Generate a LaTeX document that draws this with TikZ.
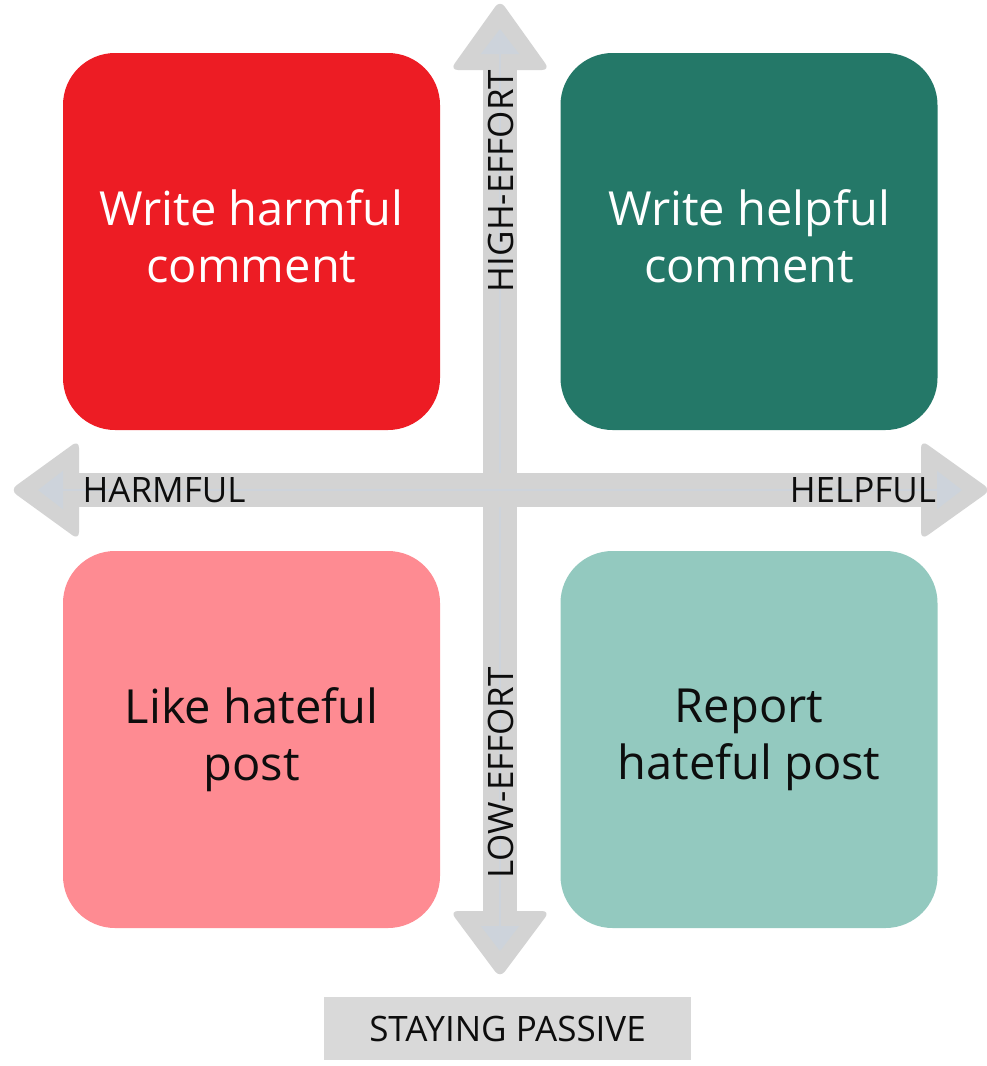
\documentclass[tikz,border=0pt]{standalone}
\usepackage{fontspec}
\setmainfont{Open Sans}
\usetikzlibrary{arrows.meta}

\definecolor{harmred}{HTML}{ED1C24}
\definecolor{helpgreen}{HTML}{247868}
\definecolor{harmpink}{HTML}{FE8B92}
\definecolor{helpteal}{HTML}{93C9BF}
\definecolor{axisgray}{HTML}{D3D3D3}
\definecolor{axisline}{HTML}{CDD3DB}
\definecolor{passivegray}{HTML}{D9D9D9}
\definecolor{inkdark}{HTML}{0D0D0D}

\tikzset{
  quad/.style={minimum width=377pt, minimum height=377pt, rounded corners=52pt, inner sep=0pt},
  quadtext/.style={inner sep=0pt, align=center, font=\fontsize{47}{57}\selectfont},
  axishead/.style={fill=axisgray, rounded corners=8pt},
  axiscore/.style={draw=axisline, line width=1.5pt,
    {Triangle[length=25pt,width=38pt]}-{Triangle[length=25pt,width=38pt]}},
  axislabel/.style={text=inkdark, inner sep=0pt, font=\fontsize{35}{35}\selectfont},
}

\begin{document}
\begin{tikzpicture}[x=1pt, y=-1pt]
  \useasboundingbox (0,0) rectangle (987,1066);

  % quadrants
  \node[quad, fill=harmred]   (wharm) at (251.5,241.5) {};
  \node[quad, fill=helpgreen] (whelp) at (749,241.5)   {};
  \node[quad, fill=harmpink]  (lhate) at (251.5,739.5) {};
  \node[quad, fill=helpteal]  (rhate) at (749,739.5)   {};

  \node[quadtext, text=white, yshift=5pt]  (wharmtext) at (wharm) {Write harmful\\comment};
  \node[quadtext, text=white, yshift=5pt]  (whelptext) at (whelp) {Write helpful\\comment};
  \node[quadtext, text=inkdark] (lhatetext) at (lhate) {Like hateful\\post};
  \node[quadtext, text=inkdark] (rhatetext) at (rhate) {Report\\hateful post};

  % vertical effort axis
  \coordinate (vtop) at (500,29);
  \coordinate (vbot) at (500,951);
  \fill[axisgray] (483,60) rectangle (517,920);
  \fill[axishead] (500,0) -- (550,70) -- (450,70) -- cycle;
  \fill[axishead] (500,978) -- (450,911) -- (550,911) -- cycle;
  \draw[axiscore] (vbot) -- (vtop);

  % horizontal harm/help axis
  \coordinate (hleft) at (38,490);
  \coordinate (hright) at (962,490);
  \fill[axisgray] (70,473) rectangle (930,507);
  \fill[axishead] (10,490) -- (79,440) -- (79,540) -- cycle;
  \fill[axishead] (991,490) -- (921,540) -- (921,440) -- cycle;
  \draw[axiscore] (hleft) -- (hright);

  % axis labels
  \node[axislabel, rotate=90] (high) at (501,181) {HIGH-EFFORT};
  \node[axislabel, rotate=90] (low)  at (501,773) {LOW-EFFORT};
  \node[axislabel] (harmful) at (164,490) {HARMFUL};
  \node[axislabel] (helpful) at (863,490) {HELPFUL};

  % passive label
  \node[fill=passivegray, minimum width=367pt, minimum height=63pt, inner sep=0pt,
        text=inkdark, font=\fontsize{35}{35}\selectfont] (passive) at (507.5,1028.5) {STAYING PASSIVE};
\end{tikzpicture}
\end{document}
